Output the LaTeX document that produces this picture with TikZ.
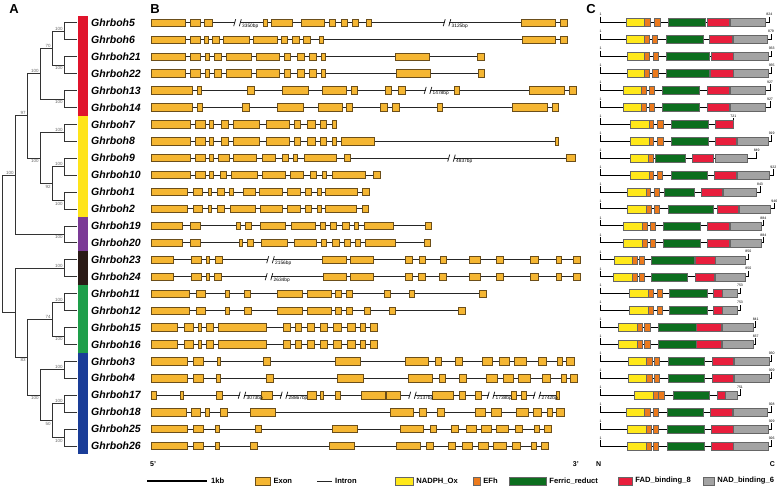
\documentclass[tikz,border=0pt]{standalone}
\usepackage{fontspec}
\setsansfont{Liberation Sans}
\usepackage{xcolor}
\usepackage{tikz}
\usetikzlibrary{
    positioning,
    calc
}
\definecolor{exonfill}{HTML}{F5B632}
\definecolor{exondraw}{HTML}{6B4E1A}
\definecolor{nadphfill}{HTML}{FFE81A}
\definecolor{efhfill}{HTML}{EC7A1C}
\definecolor{ferricfill}{HTML}{0C6E1E}
\definecolor{fadfill}{HTML}{E81E3C}
\definecolor{nadfill}{HTML}{A3A3A3}
\definecolor{cladered}{HTML}{E0142C}
\definecolor{cladeyellow}{HTML}{FFE41A}
\definecolor{cladepurple}{HTML}{7B3A96}
\definecolor{cladeblack}{HTML}{2A1A16}
\definecolor{cladegreen}{HTML}{1E9E4A}
\definecolor{cladeblue}{HTML}{1A3D98}
\tikzset{
  branch/.style = {
      draw=black!80,
      line width=0.7pt
  },
  boot/.style = {
      font=\sffamily\fontsize{4.5}{5}\selectfont,
      text=black!60,
      inner sep=0pt
  },
  genename/.style = {
      font=\sffamily\bfseries\itshape\fontsize{10.5}{12}\selectfont,
      anchor=west,
      inner sep=0pt
  },
  panel/.style = {
      font=\sffamily\bfseries\fontsize{13}{14}\selectfont,
      inner sep=0pt
  },
  intron/.style = {
      draw=black!85,
      line width=0.8pt
  },
  exon/.style = {
      draw=exondraw,
      fill=exonfill,
      line width=0.6pt
  },
  bplabel/.style = {
      font=\sffamily\fontsize{4.8}{5}\selectfont,
      inner sep=0pt
  },
  pline/.style = {
      draw=black,
      line width=0.8pt
  },
  dom/.style = {
      draw=black!60,
      line width=0.4pt
  },
  lenlabel/.style = {
      font=\sffamily\fontsize{3.5}{4}\selectfont,
      inner sep=0pt
  },
  endlabel/.style = {
      font=\sffamily\bfseries\fontsize{7}{8}\selectfont,
      inner sep=0pt
  },
  legtext/.style = {
      font=\sffamily\bfseries\fontsize{7.6}{8}\selectfont,
      inner sep=0pt,
      anchor=west
  },
  legbox/.style = {
      dom,
      minimum height=8pt,
      inner sep=0pt
  }
}
% gene structure: y, intron end, exons
\newcommand{\genestr}[3]{%
  \draw[intron] (151,#1) -- (#2,#1);
  \foreach \xa/\xb in {#3} {\draw[exon] (\xa,#1-3.7) rectangle (\xb,#1+3.7);}
}
% intron break: x, y, size
\newcommand{\genebreak}[3]{%
  \fill[white] (#1-2.2,#2-1.2) rectangle (#1+2.2,#2+1.2);
  \draw[intron] (#1-3.8,#2+3.5) -- (#1-1.8,#2-3.5);
  \draw[intron] (#1+1.8,#2+3.5) -- (#1+3.8,#2-3.5);
  \node[bplabel, anchor=north west] (bp#3) at (#1+4.5,#2+0.8) {#3};
}
% protein: y, end, length, domains
\newcommand{\protrow}[4]{%
  \draw[pline] (600.7,#1-6) -- (600.7,#1) -- (#2,#1) -- (#2,#1-6);
  \node[lenlabel, anchor=south] (s#3#1) at (600.7,#1-6.5) {1};
  \node[lenlabel, anchor=south] (e#3#1) at (#2,#1-6.5) {#3};
  \foreach \dfill/\xa/\xb in {#4} {\draw[dom, fill=\dfill] (\xa,#1-4) rectangle (\xb,#1+4);}
}

\begin{document}
\begin{tikzpicture}[x=1pt, y=-1pt, node distance=3pt]
    \useasboundingbox (0,0) rectangle (778,486);
    % Panels
    \node[panel] (pa) at (14,9) {A};
    \node[panel] (pb) at (155,9) {B};
    \node[panel] (pc) at (591,9) {C};
    % Tips and names
    \foreach \g [count=\i from 0] in {5,6,21,22,13,14,7,8,9,10,1,2,19,20,23,24,11,12,15,16,3,4,17,18,25,26} {
        \pgfmathsetmacro\yy{22.7+16.93*\i}
        \coordinate (t\g) at (77,\yy);
        \node[genename] (g\g) at (91,\yy) {Ghrboh\g};
    }
    % Clade bar
    \fill[cladered] (77.5,15.7) rectangle (87.5,115.8);
    \fill[cladeyellow] (77.5,115.8) rectangle (87.5,217.4);
    \fill[cladepurple] (77.5,217.4) rectangle (87.5,251.3);
    \fill[cladeblack] (77.5,251.3) rectangle (87.5,285.1);
    \fill[cladegreen] (77.5,285.1) rectangle (87.5,352.8);
    \fill[cladeblue] (77.5,352.8) rectangle (87.5,454);
    % Tree nodes
    \coordinate (n56) at (64,31.2);
    \coordinate (n2122) at (64,65.1);
    \coordinate (n1314) at (64,98.9);
    \coordinate (nred1) at (52,48.1);
    \coordinate (nred) at (40,73.5);
    \coordinate (n78) at (64,132.8);
    \coordinate (n910) at (64,166.6);
    \coordinate (n12) at (64,200.5);
    \coordinate (nyel1) at (52,183.5);
    \coordinate (nyel) at (40,158.2);
    \coordinate (nry) at (27,115.8);
    \coordinate (n1920) at (64,234.3);
    \coordinate (nryp) at (15,175.1);
    \coordinate (n2324) at (64,268.2);
    \coordinate (n1112) at (64,302.1);
    \coordinate (n1516) at (64,335.9);
    \coordinate (ngrn) at (52,319);
    \coordinate (n34) at (64,369.8);
    \coordinate (n1718) at (64,403.7);
    \coordinate (n2526) at (64,437.5);
    \coordinate (nblu1) at (52,420.6);
    \coordinate (nblu) at (40,395.2);
    \coordinate (ngb) at (27,357.1);
    \coordinate (nbgb) at (15,312.7);
    \coordinate (root) at (2.7,243.9);
    % Branches
    \foreach \p/\c in {n56/t5, n56/t6, n2122/t21, n2122/t22, n1314/t13, n1314/t14,
        nred1/n56, nred1/n2122, nred/nred1, nred/n1314,
        n78/t7, n78/t8, n910/t9, n910/t10, n12/t1, n12/t2,
        nyel1/n910, nyel1/n12, nyel/n78, nyel/nyel1, nry/nred, nry/nyel,
        n1920/t19, n1920/t20, nryp/nry, nryp/n1920,
        n2324/t23, n2324/t24, n1112/t11, n1112/t12, n1516/t15, n1516/t16,
        ngrn/n1112, ngrn/n1516, n34/t3, n34/t4, n1718/t17, n1718/t18,
        n2526/t25, n2526/t26, nblu1/n1718, nblu1/n2526, nblu/n34, nblu/nblu1,
        ngb/ngrn, ngb/nblu, nbgb/n2324, nbgb/ngb, root/nryp, root/nbgb}
        \draw[branch] (\p) |- (\c);
    % Bootstrap values
    \foreach \n/\v in {n56/100, nred1/70, nred/100, n78/100, n910/100, nry/97, nryp/100,
        n2324/100, n1112/100, ngrn/74, n34/100, n1718/100}
        \node[boot, anchor=south east] (b\n) at ($(\n)+(-1.2,-0.8)$) {\v};
    \foreach \n/\v in {n2122/100, n1314/100, nyel1/92, n12/100, nyel/100, n1920/100,
        n1516/100, n2526/100, nblu1/50, nblu/100, ngb/83}
        \node[boot, anchor=north east] (b\n) at ($(\n)+(-1.2,1.2)$) {\v};

    % Gene structures
    \genestr{22.7}{567.3}{151/185.7, 190.7/200.7, 204.7/212.7, 263.3/267.3, 271.7/292.3, 301/324, 329.3/335.3, 341/347.7, 352/358.3, 366.7/371, 521.7/555.7, 560.3/567.3}
    \genebreak{237.5}{22.7}{3350bp}
    \genebreak{447}{22.7}{3125bp}
    \genestr{39.6}{567.7}{151/185.7, 190.7/200.7, 204.3/208.3, 212/219.3, 223.3/249.3, 253.3/277.3, 281.7/287.3, 292.7/299.3, 303.3/310, 319/323.3, 522/555.7, 560.7/567.7}
    \genestr{56.6}{484.3}{151/185.7, 190.7/200.7, 205.3/209, 214/221.7, 226/251.7, 256/279.3, 284.3/290.7, 297/304, 309.3/316, 321/325.7, 395.7/429.3, 477.7/484.3}
    \genestr{73.5}{484.7}{151/185.7, 190.7/200.7, 205.3/209, 214/221.7, 226/251.7, 256/279.3, 284.3/290.7, 297/304, 309.3/316, 321/325.7, 396/430, 478/484.7}
    \genestr{90.4}{576.7}{151/192.3, 197.7/201.7, 247.3/254.3, 282.3/308.3, 322.7/346.7, 351/357.3, 385/391.7, 398.3/405, 454.3/459, 529.3/564, 569/576.7}
    \genebreak{428}{90.4}{1478bp}
    \genestr{107.4}{558.7}{151/192.3, 197.7/202, 242.3/249.3, 277.7/303.7, 318.3/342, 346.7/352.7, 380/387.3, 392.7/399.3, 437.7/442.3, 512.3/547, 552/558.7}
    \genestr{124.3}{336}{151/190, 195.3/205, 209.3/213.3, 221/228.3, 233.3/259, 266/289.3, 294.3/300.7, 307.7/315, 320/326, 332.3/336}
    \genestr{141.2}{558.3}{151/190, 195.3/205, 209.3/213.3, 221/228.3, 233.3/259, 266/289.3, 294.3/300.7, 307.7/315, 320/326, 332.3/336, 341.7/374.3, 555/558.3}
    \genestr{158.1}{575.3}{151/190, 195.7/205.7, 209.3/213.3, 218.3/229, 233.3/256.7, 262.3/275, 282.3/288.3, 293.3/297.3, 304/336, 344.3/350, 566/575.3}
    \genebreak{451.5}{158.1}{4837bp}
    \genestr{175.1}{380}{151/190, 195.7/205.7, 209.3/213.3, 220/226.7, 231/257.3, 262.3/285.3, 290.7/303.3, 310.7/316.7, 322/326, 332.3/365, 373.3/380}
    \genestr{192}{369}{151/187.7, 193.3/202.3, 208/211.7, 217.3/224, 229.3/233.3, 243.3/255, 259.3/282.7, 287.3/300, 305.7/311.7, 317.3/321.7, 325.7/357.7, 362.3/369}
    \genestr{208.9}{368.3}{151/187.7, 193.3/202.3, 208/211.7, 217.3/224, 230/255.7, 260/282.7, 287.3/300, 305.7/311.7, 317.3/321.7, 325.7/356.7, 362.3/368.3}
    \genestr{225.9}{431.7}{151/182.7, 190.7/200, 236.7/240, 245/251, 260/285.7, 291.7/315, 320/325, 330.7/336.7, 342.3/349, 354.3/358.3, 364/393.3, 425/431.7}
    \genestr{242.8}{430.7}{151/182.7, 190.7/200, 239/242.7, 247.3/253.3, 261.7/287.3, 294/316.7, 321.7/326.7, 332.7/339, 344.3/350, 355.7/360, 365.7/395, 424.3/430.7}
    \genestr{259.7}{580.7}{151/173.3, 191.7/201, 206/209.3, 215.7/222.3, 322.7/346, 350.7/373.3, 405.7/412.3, 419/425.7, 440/446.7, 469.3/480.7, 496/503.3, 530/538.3, 556/561, 573.3/580.7}
    \genebreak{270.5}{259.7}{2156bp}
    \genestr{276.7}{580.7}{151/173.3, 191.7/201, 206/209.3, 214/221.3, 323.3/346.7, 350.7/373.3, 405.7/412.3, 418.3/425.7, 439.3/446, 469.3/480.7, 496/503.3, 530/538.3, 556/561, 573.3/580.7}
    \genebreak{269}{276.7}{2634bp}
    \genestr{293.6}{486}{151/189.3, 196/205.7, 225.7/229, 244/250.7, 277.3/302.7, 307.7/331, 335.7/341.7, 346.7/352.7, 384.3/390.7, 409.3/414.3, 479.3/486}
    \genestr{310.5}{465}{151/189.3, 196/205.7, 225.7/229, 244.3/251, 277.3/302.7, 307.7/331, 335.7/341.7, 346.7/352.7, 364.3/370, 389.3/395, 458.3/465}
    \genestr{327.4}{377.3}{151/177.7, 184/193.3, 198.3/201.7, 206.3/213.3, 218.3/266.7, 283.3/290, 295/301.7, 307.3/314, 320/327.3, 333.3/341.7, 347.3/355, 360.7/365, 370.7/377.3}
    \genestr{344.4}{377.3}{151/177.7, 184/193.3, 198.3/201.7, 206.3/213.3, 218.3/266.7, 283.3/290, 295/301.7, 307.3/314, 320/327.3, 333.3/341.7, 347.3/355, 360.7/365, 370.7/377.3}
    \genestr{361.3}{574}{151/187.7, 193.3/203.3, 217.3/220.7, 263.3/270.7, 335/360, 405.7/428.3, 435.7/441.7, 455/462.3, 482.7/492.7, 499.3/509.3, 514/526.7, 538.3/546, 557.7/562.7, 566.7/574}
    \genestr{378.2}{577.7}{151/187.7, 193.3/203.3, 216.7/220, 266/273.3, 337.3/363.3, 408.3/432.3, 439/445, 459.3/466, 486.7/497.3, 503.3/513.3, 518.3/530.7, 542.3/550, 561.7/566, 570.7/577.7}
    \genestr{395.2}{559}{151/156.7, 180/183.3, 216/222.3, 261.7/272.7, 307.7/316.7, 320/323.3, 335.7/340, 361.7/385, 386/400, 432.3/453.3, 459.3/465, 475/481, 511/516, 521/526, 556/559}
    \genebreak{242}{395.2}{3073bp}
    \genebreak{284}{395.2}{28867bp}
    \genebreak{412.5}{395.2}{2137bp}
    \genebreak{491}{395.2}{1738bp}
    \genebreak{537}{395.2}{2742bp}
    \genestr{412.1}{564}{151/186.7, 191/200.7, 205.7/209.3, 220/227.3, 250/275.7, 390/413.3, 419.3/426, 437.3/444.3, 475/485.7, 491.7/501.7, 516.7/528.3, 533.3/541.7, 547.3/552.7, 556.7/564}
    \genestr{429}{551.7}{151/187.7, 193.3/203.3, 215.7/219, 255/261.7, 332.3/357.7, 400/423.3, 430/436.7, 451.7/458.3, 466/476, 481.7/491.7, 496.7/508.3, 515/522.7, 534/539.3, 544.3/551.7}
    \genestr{445.9}{548.3}{151/187.7, 193.3/203.3, 215.7/219, 250.7/257.7, 329/354.3, 396.7/420, 426.7/433.3, 448.3/455.7, 462.7/472.7, 478.3/488.3, 493.3/506, 512.3/520, 531/536, 541/548.3}
    \node[endlabel, anchor=west] (five) at (150,464) {5'};
    \node[endlabel, anchor=east] (three) at (579,464) {3'};

    % Protein domains
    \protrow{22.7}{769.3}{824}{nadphfill/625.7/644.3, efhfill/644.3/650, efhfill/654.3/659.7, ferricfill/668.3/705, fadfill/707/729.3, nadfill/730/764.7}
    \protrow{39.6}{771}{879}{nadphfill/625.7/644.3, efhfill/644.3/649, efhfill/652/657.3, ferricfill/665.7/702.7, fadfill/709.3/731.7, nadfill/732.7/766.7}
    \protrow{56.6}{771.7}{933}{nadphfill/626.7/644.3, efhfill/644.3/649.3, efhfill/653/658.3, ferricfill/666/709.3, fadfill/710.7/732.7, nadfill/733.3/768}
    \protrow{73.5}{771.7}{935}{nadphfill/626.7/644.3, efhfill/644.3/649.3, efhfill/652.3/657.7, ferricfill/665.7/709, fadfill/710/732.7, nadfill/733.3/768}
    \protrow{90.4}{770}{927}{nadphfill/622.7/641, efhfill/641/646, efhfill/649.3/654.3, ferricfill/662.3/699.3, fadfill/707/729, nadfill/730/765}
    \protrow{107.4}{770}{927}{nadphfill/622.7/641, efhfill/641/646, efhfill/649.3/654.3, ferricfill/662.3/699.3, fadfill/707/729, nadfill/730/765}
    \protrow{124.3}{733.3}{721}{nadphfill/630/649.3, efhfill/649.3/652.7, efhfill/656.7/662.7, ferricfill/671/708, fadfill/715/733.3}
    \protrow{141.2}{771.7}{919}{nadphfill/630/649.3, efhfill/649.3/653.3, efhfill/656.7/662.7, ferricfill/671/708, fadfill/715/736, nadfill/736.7/768.3}
    \protrow{158.1}{756.7}{849}{nadphfill/630/648.3, efhfill/648.3/653.3, ferricfill/655/685, fadfill/692/713.3, nadfill/714.7/746.7}
    \protrow{175.1}{773.3}{922}{nadphfill/630/649.3, efhfill/649.3/653.3, efhfill/656.7/662.3, ferricfill/670.7/707.3, fadfill/714.3/736, nadfill/736.7/769.3}
    \protrow{192}{760}{843}{nadphfill/626.7/645.7, efhfill/645.7/650, efhfill/654.3/659.3, ferricfill/664/694, fadfill/701/722, nadfill/722.7/755.7}
    \protrow{208.9}{774.3}{946}{nadphfill/626.7/646, efhfill/646/651, efhfill/654.3/659.3, ferricfill/667.7/712.7, fadfill/716.7/737.7, nadfill/739/770}
    \protrow{225.9}{763.3}{884}{nadphfill/622.7/641.7, efhfill/641.7/646.7, efhfill/650/655, ferricfill/663.3/700, fadfill/707.3/729, nadfill/730/760.7}
    \protrow{242.8}{763.3}{884}{nadphfill/622.7/641.7, efhfill/641.7/646.7, efhfill/650/655, ferricfill/663.3/700, fadfill/707.3/729, nadfill/730/760.7}
    \protrow{259.7}{748.3}{850}{nadphfill/614/631.7, efhfill/631.7/636.7, efhfill/639.3/644.3, ferricfill/651/694, fadfill/695.3/714.7, nadfill/715.3/745.3}
    \protrow{276.7}{748.3}{850}{nadphfill/613.3/631.7, efhfill/631.7/636.7, efhfill/639.3/644.3, ferricfill/651/687.3, fadfill/695.3/714, nadfill/715.3/745.3}
    \protrow{293.6}{740}{753}{nadphfill/629/648.3, efhfill/648.3/653.3, efhfill/656.7/661.7, ferricfill/669.3/706.7, fadfill/713.3/722.3, nadfill/722.3/736.7}
    \protrow{310.5}{740}{753}{nadphfill/629/648.3, efhfill/648.3/653.3, efhfill/656.7/661.7, ferricfill/669.3/706.7, fadfill/713.3/722.3, nadfill/722.3/736.7}
    \protrow{327.4}{755.7}{841}{nadphfill/617.7/636.7, efhfill/636.7/641.7, efhfill/644.3/650, ferricfill/658.3/695.7, fadfill/696/721, nadfill/721.7/752.7}
    \protrow{344.4}{755.7}{837}{nadphfill/617.7/636.7, efhfill/636.7/641.7, efhfill/644.3/650, ferricfill/658.3/695.7, fadfill/696/721, nadfill/721.7/752.7}
    \protrow{361.3}{771.7}{930}{nadphfill/628.3/646, efhfill/646/651.7, efhfill/654.3/659.3, ferricfill/667.7/704.3, fadfill/711.7/733.3, nadfill/734/769}
    \protrow{378.2}{771.7}{929}{nadphfill/628.3/646, efhfill/646/651.7, efhfill/654.3/659.3, ferricfill/667.7/704.3, fadfill/711.7/733.3, nadfill/734/769}
    \protrow{395.2}{740}{751}{nadphfill/634.3/652.7, efhfill/652.7/657.7, efhfill/658.3/664, ferricfill/672.7/709.3, fadfill/716.7/725, nadfill/725/736.7}
    \protrow{412.1}{771.7}{928}{nadphfill/626/644.3, efhfill/644.3/650, efhfill/652.7/657.7, ferricfill/666.7/703.3, fadfill/710/732.3, nadfill/732.7/767.3}
    \protrow{429}{771.7}{929}{nadphfill/627.3/645.7, efhfill/645.7/650.7, efhfill/653.3/658.3, ferricfill/667.3/704, fadfill/710.7/732.7, nadfill/733.3/768.3}
    \protrow{445.9}{771.7}{926}{nadphfill/627.3/645.7, efhfill/645.7/650.7, efhfill/653.3/658.3, ferricfill/667.3/704, fadfill/710.7/732.7, nadfill/733.3/768.3}
    \node[endlabel, anchor=west] (nterm) at (596,464) {N};
    \node[endlabel, anchor=east] (cterm) at (775,464) {C};

    % Legend
    \coordinate (kbl) at (147,481);
    \coordinate (kbr) at (207,481);
    \draw[line width=2.2pt] (kbl) -- (kbr);
    \node[legtext, right=4pt of kbr] (kbt) {1kb};
    \node[exon, minimum width=15pt, minimum height=8pt, inner sep=0pt] (lexon) at (262.5,481) {};
    \node[legtext, right=of lexon] (lexont) {Exon};
    \coordinate (lin1) at (317,481);
    \coordinate (lin2) at (332,481);
    \draw[intron] (lin1) -- (lin2);
    \node[legtext, right=of lin2] (lintront) {Intron};
    \node[legbox, fill=nadphfill, minimum width=18pt] (lnadph) at (404,481) {};
    \node[legtext, right=of lnadph] (lnadpht) {NADPH\_Ox};
    \node[legbox, fill=efhfill, minimum width=7pt] (lefh) at (476.5,481) {};
    \node[legtext, right=of lefh] (lefht) {EFh};
    \node[legbox, fill=ferricfill, minimum width=37pt] (lferric) at (527.5,481) {};
    \node[legtext, right=of lferric] (lferrict) {Ferric\_reduct};
    \node[legbox, fill=fadfill, minimum width=14pt] (lfad) at (625,481) {};
    \node[legtext, right=of lfad] (lfadt) {FAD\_binding\_8};
    \node[legbox, fill=nadfill, minimum width=11pt] (lnad) at (708.5,481) {};
    \node[legtext, right=of lnad] (lnadt) {NAD\_binding\_6};
\end{tikzpicture}
\end{document}
